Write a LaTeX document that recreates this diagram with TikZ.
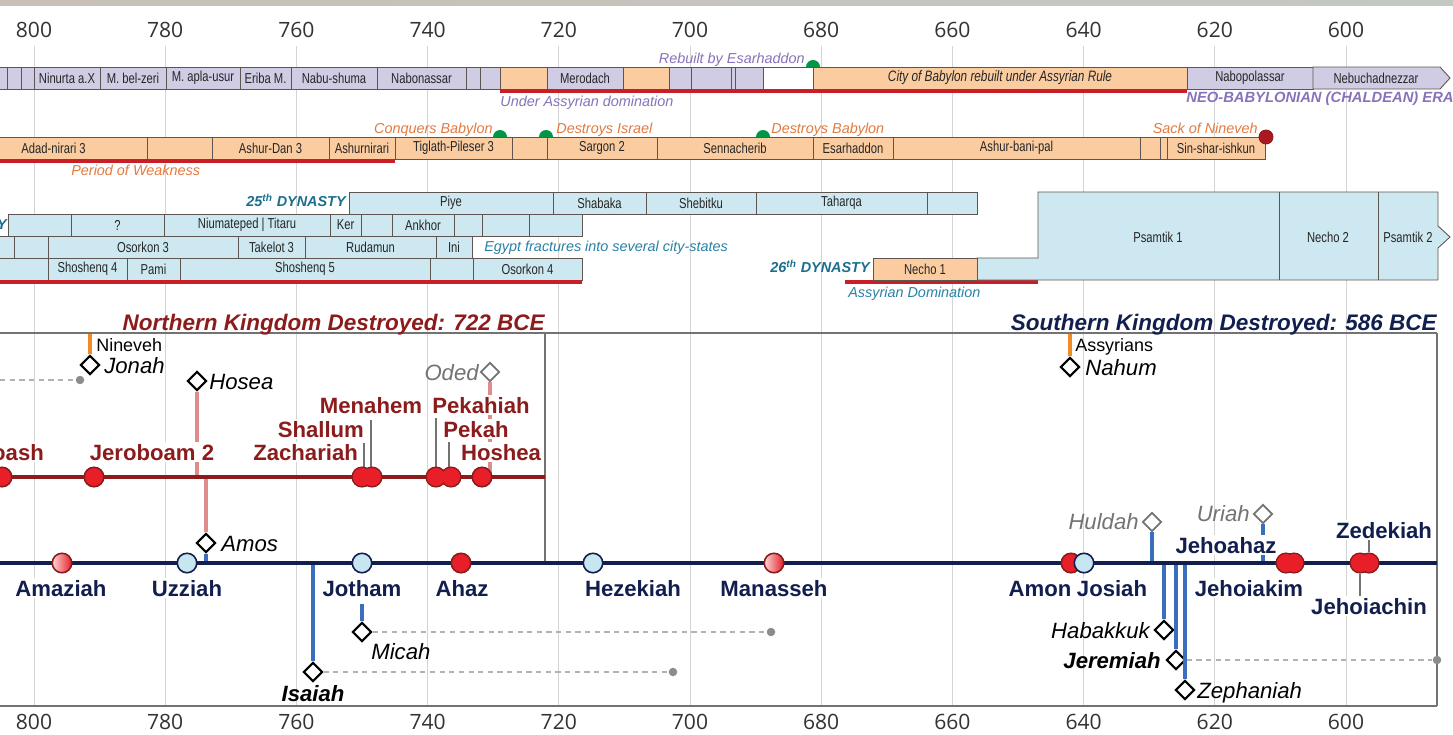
\documentclass[tikz,border=0pt]{standalone}
\usepackage{fontspec}
\setmainfont{Liberation Sans}
\newfontfamily\nar[FakeStretch=0.78]{Liberation Sans}
\newfontfamily\axf{Open Sans}
\usetikzlibrary{shapes.geometric}
\definecolor{lav}{RGB}{208,204,228}
\definecolor{peach}{RGB}{251,204,160}
\definecolor{ltblue}{RGB}{205,232,240}
\definecolor{bxline}{RGB}{95,85,80}
\definecolor{uline}{RGB}{200,30,40}
\definecolor{lavtxt}{RGB}{135,115,185}
\definecolor{orgtxt}{RGB}{228,122,62}
\definecolor{tealtxt}{RGB}{28,110,140}
\definecolor{tealtxtb}{RGB}{40,130,165}
\definecolor{grn}{RGB}{0,150,70}
\definecolor{isr}{RGB}{140,28,28}
\definecolor{jud}{RGB}{18,30,78}
\definecolor{kred}{RGB}{232,30,40}
\definecolor{kpale}{RGB}{250,215,215}
\definecolor{kblue}{RGB}{200,230,240}
\definecolor{pblue}{RGB}{60,110,190}
\definecolor{pinkl}{RGB}{222,140,140}
\definecolor{orln}{RGB}{240,140,40}
\definecolor{gridc}{RGB}{212,212,212}
\newcommand\fsz[1]{\fontsize{#1}{#1}\selectfont}
\newcommand\bx[6]{\node[bx,fill=#5,minimum width={(#3-(#2))*0.02cm}] (#1) at ({(#2+#3)/2},#4) {#6};}
\begin{document}
\begin{tikzpicture}[x=0.02cm,y=-0.02cm,
  bx/.style={draw=bxline,line width=0.5pt,minimum height=0.44cm,inner sep=0,font=\nar\fsz{8.2},text=black!85},
  bxt/.style={inner sep=0,font=\nar\fsz{8.2},text=black!85},
  gridl/.style={draw=gridc,line width=0.5pt},
  frame/.style={draw=black!55,line width=0.6pt},
  axl/.style={font=\axf\fsz{12},text=black!80,inner sep=0},
  ul/.style={draw=uline,line width=2.2pt},
  ann/.style={font=\itshape\fsz{8.2},inner sep=0},
  dyn/.style={font=\bfseries\itshape\fsz{8.2},text=tealtxt,inner sep=0},
  isrl/.style={draw=isr,line width=2pt},
  judl/.style={draw=jud,line width=2.3pt},
  kr/.style={circle,draw=isr,line width=0.9pt,fill=kred,minimum size=0.39cm,inner sep=0},
  krf/.style={circle,fill=kred,minimum size=0.36cm,inner sep=0},
  kb/.style={circle,draw=jud,line width=0.9pt,fill=kblue,minimum size=0.39cm,inner sep=0},
  kg/.style={circle,draw=isr,line width=0.9pt,left color=kpale,right color=kred,minimum size=0.39cm,inner sep=0},
  kn/.style={font=\bfseries\fsz{12.6},inner sep=1pt,fill=white},
  isrname/.style={kn,text=isr},
  judname/.style={kn,text=jud},
  pd/.style={diamond,draw=black,line width=1.2pt,fill=white,minimum width=0.38cm,minimum height=0.38cm,inner sep=0},
  pdg/.style={pd,draw=black!55,line width=1pt},
  pl/.style={font=\itshape\fsz{12.6},inner sep=0},
  plb/.style={font=\bfseries\itshape\fsz{12.6},inner sep=0},
  plg/.style={pl,text=black!55},
  pb/.style={draw=pblue,line width=2pt},
  pk/.style={draw=pinkl,line width=2pt},
  po/.style={draw=orln,line width=2pt},
  dsh/.style={draw=black!30,line width=0.7pt,dash pattern=on 3pt off 2.5pt},
  gdot/.style={circle,fill=black!45,minimum size=0.17cm,inner sep=0},
  tk/.style={draw=black!55,line width=0.7pt},
  sm/.style={font=\fsz{10.2},inner sep=0},
  ttl/.style={font=\bfseries\itshape\fsz{12.8},inner sep=0}]
\useasboundingbox (0,0) rectangle (1453,734);
\clip (0,0) rectangle (1453,734);
\fill[white] (0,0) rectangle (1453,734);
\shade[left color={rgb,255:red,200;green,192;blue,182},middle color={rgb,255:red,236;green,232;blue,222},right color={rgb,255:red,195;green,200;blue,195}] (0,0) rectangle (1453,5);
% grid and axis
\foreach \i in {0,...,10}{
  \pgfmathtruncatemacro\yr{800-20*\i}
  \draw[gridl] ({34+131.2*\i},46) -- ({34+131.2*\i},706);
  \node[axl] (top\i) at ({34+131.2*\i},30) {\yr};
  \node[axl] (bot\i) at ({34+131.2*\i},722) {\yr};
}
% Babylon row
\bx{b1}{-5}{7}{78}{lav}{}
\bx{b2}{7}{21}{78}{lav}{}
\bx{b3}{21}{34}{78}{lav}{}
\bx{b4}{34}{100}{78}{lav}{Ninurta a.X}
\bx{b5}{100}{166}{78}{lav}{M. bel-zeri}
\bx{b6}{166}{240}{78}{lav}{M. apla-usur}
\bx{b7}{240}{291}{78}{lav}{Eriba M.}
\bx{b8}{291}{377}{78}{lav}{Nabu-shuma}
\bx{b9}{377}{466}{78}{lav}{Nabonassar}
\bx{b10}{466}{480}{78}{lav}{}
\bx{b11}{480}{500}{78}{lav}{}
\bx{b12}{500}{547}{78}{peach}{}
\bx{b13}{547}{623}{78}{lav}{Merodach}
\bx{b14}{623}{669}{78}{peach}{}
\bx{b15}{669}{691}{78}{lav}{}
\bx{b16}{691}{731}{78}{lav}{}
\bx{b17}{731}{735}{78}{lav}{}
\bx{b18}{735}{763}{78}{lav}{}
\bx{b19}{763}{813}{78}{white}{}
\bx{b20}{813}{1187}{78}{peach}{\itshape\fsz{8.6}City of Babylon rebuilt under Assyrian Rule}
\bx{b21}{1187}{1313}{78}{lav}{Nabopolassar}
\draw[draw=bxline,line width=0.5pt,fill=lav] (1313,67) -- (1440,67) -- (1450,78) -- (1440,89) -- (1313,89) -- cycle;
\node[bxt] (b22) at (1376,78) {Nebuchadnezzar};
\draw[ul] (500,91) -- (1187,91);
\node[ann,text=lavtxt,anchor=base west] (ua) at (500,106) {Under Assyrian domination};
\node[ann,text=lavtxt,anchor=base east] (rbe) at (805,63) {Rebuilt by Esarhaddon};
\fill[grn] (806,67) arc[start angle=180,end angle=0,radius=0.14cm] -- cycle;
\node[font=\bfseries\itshape\fsz{8.4},text=lavtxt,inner sep=0,anchor=base west] (neo) at (1186,102) {NEO-BABYLONIAN (CHALDEAN) ERA};
% Assyria row
\bx{a1}{-40}{147}{148}{peach}{Adad-nirari 3}
\bx{a2}{147}{212}{148}{peach}{}
\bx{a3}{212}{329}{148}{peach}{Ashur-Dan 3}
\bx{a4}{329}{395}{148}{peach}{Ashurnirari}
\bx{a5}{395}{512}{148}{peach}{Tiglath-Pileser 3}
\bx{a6}{512}{547}{148}{peach}{}
\bx{a7}{547}{657}{148}{peach}{Sargon 2}
\bx{a8}{657}{813}{148}{peach}{Sennacherib}
\bx{a9}{813}{893}{148}{peach}{Esarhaddon}
\bx{a10}{893}{1140}{148}{peach}{Ashur-bani-pal}
\bx{a11}{1140}{1160}{148}{peach}{}
\bx{a12}{1160}{1167}{148}{peach}{}
\bx{a13}{1167}{1265}{148}{peach}{Sin-shar-ishkun}
\draw[ul] (0,161) -- (395,161);
\node[ann,text=orgtxt,anchor=base west] (pw) at (71,175) {Period of Weakness};
\node[ann,text=orgtxt,anchor=base east] (cb) at (493,133) {Conquers Babylon};
\node[ann,text=orgtxt,anchor=base west] (di) at (556,133) {Destroys Israel};
\node[ann,text=orgtxt,anchor=base west] (db) at (771,133) {Destroys Babylon};
\node[ann,text=orgtxt,anchor=base east] (sn) at (1258,133) {Sack of Nineveh};
\fill[grn] (493,137) arc[start angle=180,end angle=0,radius=0.14cm] -- cycle;
\fill[grn] (539,137) arc[start angle=180,end angle=0,radius=0.14cm] -- cycle;
\fill[grn] (756,137) arc[start angle=180,end angle=0,radius=0.14cm] -- cycle;
\node[circle,fill=uline!85!black,draw=isr,line width=0.5pt,minimum size=0.28cm,inner sep=0] (sackc) at (1266,137) {};
% Egypt rows
\node[dyn,anchor=base east] (d25) at (346,206) {25\textsuperscript{th} DYNASTY};
\bx{e1}{349}{553}{203}{ltblue}{Piye}
\bx{e2}{553}{646}{203}{ltblue}{Shabaka}
\bx{e3}{646}{756}{203}{ltblue}{Shebitku}
\bx{e4}{756}{927}{203}{ltblue}{Taharqa}
\bx{e5}{927}{977}{203}{ltblue}{}
\node[dyn,anchor=base east] (dL) at (7,229) {DYNASTY};
\bx{f1}{8}{71}{225}{ltblue}{}
\bx{f2}{71}{164}{225}{ltblue}{?}
\bx{f3}{164}{330}{225}{ltblue}{Niumateped | Titaru}
\bx{f4}{330}{361}{225}{ltblue}{Ker}
\bx{f5}{361}{392}{225}{ltblue}{}
\bx{f6}{392}{454}{225}{ltblue}{Ankhor}
\bx{f7}{454}{482}{225}{ltblue}{}
\bx{f8}{482}{529}{225}{ltblue}{}
\bx{f9}{529}{582}{225}{ltblue}{}
\bx{g1}{-5}{14}{247}{ltblue}{}
\bx{g2}{14}{48}{247}{ltblue}{}
\bx{g3}{48}{238}{247}{ltblue}{Osorkon 3}
\bx{g4}{238}{305}{247}{ltblue}{Takelot 3}
\bx{g5}{305}{436}{247}{ltblue}{Rudamun}
\bx{g6}{436}{472}{247}{ltblue}{Ini}
\node[ann,text=tealtxtb,anchor=base west] (ef) at (484,251) {Egypt fractures into several city-states};
\bx{h1}{-5}{48}{269}{ltblue}{}
\bx{h2}{48}{127}{269}{ltblue}{Shoshenq 4}
\bx{h3}{127}{180}{269}{ltblue}{Pami}
\bx{h4}{180}{430}{269}{ltblue}{Shoshenq 5}
\bx{h5}{430}{473}{269}{ltblue}{}
\bx{h6}{473}{582}{269}{ltblue}{Osorkon 4}
\draw[ul] (0,282) -- (582,282);
\draw[ul] (845,282) -- (1038,282);
\node[dyn,anchor=base east] (d26) at (870,272) {26\textsuperscript{th} DYNASTY};
\draw[draw=bxline,line width=0.5pt,fill=ltblue] (977,258) -- (1038,258) -- (1038,192) -- (1438,192) -- (1438,226) -- (1450,237) -- (1438,248) -- (1438,280) -- (977,280) -- cycle;
\draw[draw=bxline,line width=0.5pt] (1279,192) -- (1279,280) (1378,192) -- (1378,280);
\bx{h7}{873}{977}{269}{peach}{Necho 1}
\node[bxt] (ps1) at (1158,237) {Psamtik 1};
\node[bxt] (nc2) at (1328,237) {Necho 2};
\node[bxt] (ps2) at (1408,237) {Psamtik 2};
\node[ann,text=tealtxtb,anchor=base west] (ad) at (848,297) {Assyrian Domination};
% frames
\draw[frame] (0,333) -- (1437,333);
\draw[frame] (545,333) -- (545,563);
\draw[frame] (1437,333) -- (1437,706);
\draw[frame] (0,706) -- (1437,706);
\node[ttl,text=isr,anchor=base east] (tN) at (545,330) {Northern Kingdom Destroyed: 722 BCE};
\node[ttl,text=jud,anchor=base east] (tS) at (1437,330) {Southern Kingdom Destroyed: 586 BCE};
% prophets
\node[pd] (jonah) at (90,365) {};
\node[pd] (hosea) at (197,381) {};
\node[pdg] (oded) at (490,372) {};
\node[pd] (amos) at (206,543) {};
\node[pd] (micah) at (362,632) {};
\node[pd] (isaiah) at (313,672) {};
\node[pd] (nahum) at (1070,367) {};
\node[pdg] (huldah) at (1152,522) {};
\node[pdg] (uriah) at (1263,514) {};
\node[pd] (habak) at (1164,630) {};
\node[pd] (jerem) at (1176,660) {};
\node[pd] (zeph) at (1185,690) {};
\coordinate (jonT) at (90,334);
\coordinate (nahT) at (1070,334);
\coordinate (hosI) at (197,477);
\coordinate (odI) at (490,477);
\coordinate (amI) at (206,477);
\coordinate (amJ) at (206,563);
\coordinate (isJ) at (313,563);
\coordinate (micT) at (362,604);
\coordinate (hulJ) at (1152,563);
\coordinate (uriJ) at (1263,563);
\coordinate (habJ) at (1164,563);
\coordinate (jerJ) at (1176,563);
\coordinate (zepJ) at (1185,563);
\coordinate (jonD) at (0,380);
\node[gdot] (dJon) at (80,380) {};
\node[gdot] (dIsa) at (673,672) {};
\node[gdot] (dMic) at (771,632) {};
\node[gdot] (dJer) at (1437,660) {};
\draw[dsh] (jonD) -- (dJon);
\draw[dsh] (isaiah) -- (dIsa);
\draw[dsh] (micah) -- (dMic);
\draw[dsh] (jerem) -- (dJer);
\draw[po] (jonT) -- (jonah);
\draw[po] (nahT) -- (nahum);
\draw[pk] (hosea) -- (hosI);
\draw[pk] (oded) -- (odI);
\draw[pk] (amI) -- (amos);
\draw[pb] (amos) -- (amJ);
\draw[pb] (isJ) -- (isaiah);
\draw[pb] (micT) -- (micah);
\draw[pb] (huldah) -- (hulJ);
\draw[pb] (uriah) -- (uriJ);
\draw[pb] (habJ) -- (habak);
\draw[pb] (jerJ) -- (jerem);
\draw[pb] (zepJ) -- (zeph);
% kingdom lines
\coordinate (isrA) at (0,477);
\coordinate (isrB) at (545,477);
\coordinate (judA) at (0,563);
\coordinate (judB) at (1437,563);
\draw[isrl] (isrA) -- (isrB);
\draw[judl] (judA) -- (judB);
% ticks
\coordinate (zacT) at (364,443);
\coordinate (shaT) at (371,420);
\coordinate (pkhT) at (436,418);
\coordinate (pekT) at (449,442);
\coordinate (zedT) at (1369,540);
\coordinate (jhcB) at (1360,597);
\draw[tk] (zacT) -- (364,470);
\draw[tk] (shaT) -- (371,470);
\draw[tk] (pkhT) -- (436,470);
\draw[tk] (pekT) -- (449,470);
% Israel kings
\node[kr] (jehoash) at (2,477) {};
\node[kr] (jerob) at (94,477) {};
\node[kr] (zach) at (362,477) {};
\node[kr] (shal) at (372,477) {};
\node[krf] (zachf) at (zach) {};
\node[krf] (shalf) at (shal) {};
\node[kr] (pekh) at (436,477) {};
\node[kr] (pek) at (451,477) {};
\node[krf] (pekhf) at (pekh) {};
\node[krf] (pekf) at (pek) {};
\node[kr] (hosh) at (482,477) {};
% Judah kings
\node[kg] (amaz) at (62,563) {};
\node[kb] (uzz) at (187,563) {};
\node[kb] (joth) at (362,563) {};
\node[kr] (ahaz) at (461,563) {};
\node[kb] (hez) at (593,563) {};
\node[kg] (man) at (774,563) {};
\node[kr] (amon) at (1071,563) {};
\node[kb] (jos) at (1084,563) {};
\node[kr] (jhz) at (1286,563) {};
\node[kr] (jhk) at (1294,563) {};
\node[krf] (jhzf) at (jhz) {};
\node[krf] (jhkf) at (jhk) {};
\node[kr] (jhc) at (1360,563) {};
\node[kr] (zed) at (1369,563) {};
\node[krf] (jhcf) at (jhc) {};
\node[krf] (zedf) at (zed) {};
\draw[tk] (zedT) -- (zed);
\draw[tk] (jhc) -- (jhcB);
% king labels
\node[isrname,anchor=base east] (lJehoash) at (46,460) {Jehoash};
\node[isrname,anchor=base] (lJerob) at (152,460) {Jeroboam 2};
\node[isrname,anchor=base east] (lZach) at (360,460) {Zachariah};
\node[isrname,anchor=base east] (lShal) at (366,437) {Shallum};
\node[isrname,anchor=base] (lMen) at (371,413) {Menahem};
\node[isrname,anchor=base] (lPekh) at (481,413) {Pekahiah};
\node[isrname,anchor=base] (lPek) at (476,437) {Pekah};
\node[isrname,anchor=base] (lHosh) at (501,460) {Hoshea};
\node[judname,anchor=base] (lAmaz) at (61,596) {Amaziah};
\node[judname,anchor=base] (lUzz) at (187,596) {Uzziah};
\node[judname,anchor=base] (lJoth) at (362,596) {Jotham};
\node[judname,anchor=base] (lAhaz) at (462,596) {Ahaz};
\node[judname,anchor=base] (lHez) at (633,596) {Hezekiah};
\node[judname,anchor=base] (lMan) at (774,596) {Manasseh};
\node[judname,anchor=base] (lAmon) at (1040,596) {Amon};
\node[judname,anchor=base] (lJos) at (1112,596) {Josiah};
\node[judname,anchor=base] (lJhk) at (1249,596) {Jehoiakim};
\node[judname,anchor=base] (lJhc) at (1369,614) {Jehoiachin};
\node[judname,anchor=base] (lJhz) at (1226,553) {Jehoahaz};
\node[judname,anchor=base] (lZed) at (1384,538) {Zedekiah};
% prophet labels
\node[pl,anchor=base west] (lJonah) at (104,373) {Jonah};
\node[sm,anchor=base west] (lNin) at (96,351) {Nineveh};
\node[pl,anchor=base west] (lHosea) at (209,389) {Hosea};
\node[plg,anchor=base east] (lOded) at (479,380) {Oded};
\node[pl,anchor=base west] (lAmos) at (221,551) {Amos};
\node[pl,anchor=base west] (lMicah) at (371,659) {Micah};
\node[plb,anchor=base] (lIsaiah) at (313,701) {Isaiah};
\node[pl,anchor=base west] (lNahum) at (1085,375) {Nahum};
\node[sm,anchor=base west] (lAss) at (1075,351) {Assyrians};
\node[plg,anchor=base east] (lHuldah) at (1139,529) {Huldah};
\node[plg,anchor=base east] (lUriah) at (1250,521) {Uriah};
\node[pl,anchor=base east] (lHab) at (1150,638) {Habakkuk};
\node[plb,anchor=base east] (lJer) at (1161,668) {Jeremiah};
\node[pl,anchor=base west] (lZeph) at (1197,698) {Zephaniah};
\end{tikzpicture}
\end{document}
